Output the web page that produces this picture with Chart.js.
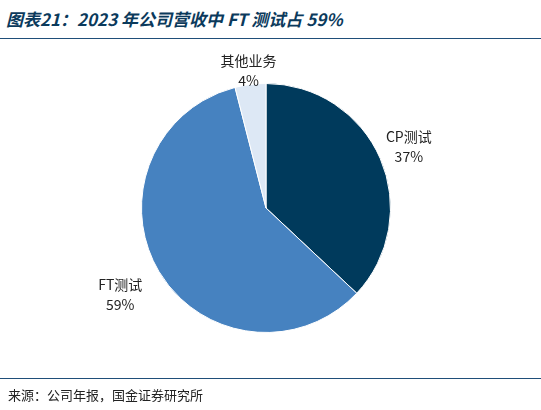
<!DOCTYPE html>
<html><head><meta charset="utf-8">
<script src="https://cdn.jsdelivr.net/npm/chart.js@4/dist/chart.umd.min.js"></script>
<style>
body{margin:0;width:541px;height:410px;background:#fff;font-family:"Noto Sans CJK SC",sans-serif;position:relative;overflow:hidden}
#title{position:absolute;left:6px;top:6px;font-size:17px;font-weight:bold;font-style:italic;color:#0b3a5c}
#l1{position:absolute;left:0;top:38px;width:541px;border-top:1.5px solid #1f4e79}
#l2{position:absolute;left:0;top:378px;width:541px;border-top:1.5px solid #1f4e79}
#src{position:absolute;left:8px;top:385px;font-size:13px;color:#222}
#wrap{position:absolute;left:0;top:0;width:541px;height:410px}
</style></head><body>
<div id="title">图表21：2023 年公司营收中 FT 测试占 59%</div>
<div id="l1"></div>
<div id="wrap"><canvas id="c"></canvas></div>
<div id="l2"></div>
<div id="src">来源：公司年报，国金证券研究所</div>
<script>
const categories = ["CP测试", "FT测试", "其他业务"];
const values = [37, 59, 4];
const colors = ["#003a5c", "#4682c0", "#dde8f5"];
const labelDist = [1.25, 1.36, 1.12];

const labelPlugin = {
  id: "labels",
  afterDraw(chart) {
    const ctx = chart.ctx;
    const arcs = chart.getDatasetMeta(0).data;
    ctx.save();
    ctx.fillStyle = "#222";
    ctx.font = "14px 'Noto Sans CJK SC', sans-serif";
    ctx.textAlign = "center";
    arcs.forEach((arc, i) => {
      const mid = (arc.startAngle + arc.endAngle) / 2;
      const r = arc.outerRadius * labelDist[i];
      const x = arc.x + Math.cos(mid) * r;
      const y = arc.y + Math.sin(mid) * r;
      ctx.fillText(categories[i], x, y - 4);
      ctx.fillText(values[i] + "%", x, y + 16);
    });
    ctx.restore();
  }
};

new Chart(document.getElementById("c"), {
  type: "pie",
  data: {
    labels: categories,
    datasets: [{ data: values, backgroundColor: colors, borderColor: "#fff", borderWidth: 1 }]
  },
  options: {
    responsive: true,
    maintainAspectRatio: false,
    animation: false,
    layout: { padding: { left: 141, right: 150, top: 83, bottom: 77 } },
    plugins: { legend: { display: false }, tooltip: { enabled: false } }
  },
  plugins: [labelPlugin]
});
</script>
</body></html>
